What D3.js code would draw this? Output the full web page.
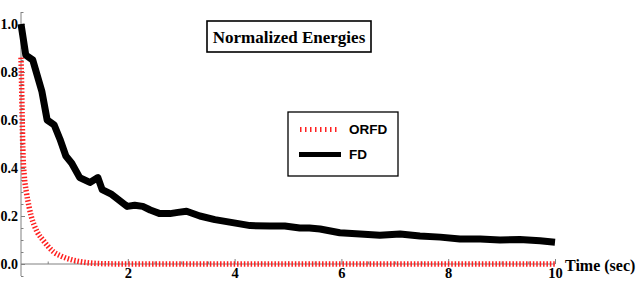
<!DOCTYPE html>
<html><head><meta charset="utf-8">
<script src="https://cdn.jsdelivr.net/npm/d3@7"></script>
<style>
html,body{margin:0;padding:0;background:#fff;}
svg{display:block;}
.serif{font-family:"Liberation Serif","Times New Roman",Times,serif;font-weight:bold;fill:#000;}
.sans{font-family:"Liberation Sans",Arial,Helvetica,sans-serif;font-weight:bold;fill:#000;}
</style></head>
<body>
<svg id="chart" width="639" height="289"></svg>
<script>
const title = "Normalized Energies";
const xLabel = "Time (sec)";
const xTicks = [2, 4, 6, 8, 10];
const yTicks = [0.0, 0.2, 0.4, 0.6, 0.8, 1.0];
const seriesNames = ["ORFD", "FD"];

const orfdT = [0, 0.01, 0.02, 0.03, 0.04, 0.06, 0.1, 0.15, 0.19, 0.25, 0.3, 0.41, 0.5, 0.61, 0.75, 0.94, 1.1, 1.3, 1.6, 2, 3, 4, 5, 6, 7, 8, 9, 10];
const orfdV = [0.86, 0.76, 0.64, 0.52, 0.44, 0.37, 0.30, 0.24, 0.20, 0.16, 0.135, 0.10, 0.075, 0.05, 0.033, 0.018, 0.01, 0.004, 0.001, 0, 0, 0, 0, 0, 0, 0, 0, 0];

const fdT = [0, 0.09, 0.22, 0.39, 0.49, 0.62, 0.73, 0.84, 0.95, 1.1, 1.29, 1.44, 1.52, 1.7, 1.99, 2.13, 2.28, 2.42, 2.6, 2.79, 2.94, 3.1, 3.35, 3.63, 4.1, 4.29, 4.66, 4.94, 5.22, 5.4, 5.6, 5.97, 6.35, 6.72, 7.1, 7.47, 7.85, 8.22, 8.6, 8.97, 9.34, 9.72, 10];
const fdV = [1.0, 0.87, 0.85, 0.72, 0.60, 0.58, 0.52, 0.45, 0.42, 0.36, 0.34, 0.36, 0.31, 0.29, 0.24, 0.245, 0.24, 0.225, 0.21, 0.21, 0.215, 0.22, 0.20, 0.185, 0.167, 0.16, 0.158, 0.158, 0.15, 0.15, 0.146, 0.13, 0.125, 0.12, 0.125, 0.117, 0.112, 0.104, 0.104, 0.10, 0.102, 0.097, 0.091];

const svg = d3.select("#chart");
const x = d3.scaleLinear().domain([0, 10]).range([21, 555]);
const y = d3.scaleLinear().domain([0, 1]).range([264, 24]);

const axisColor = "#808080";

function styleText(sel, cls, size) {
  sel.attr("class", cls).attr("font-family", null).style("font-size", size + "px");
}

// Y axis
const yMinor = d3.range(-0.05, 1.06, 0.05).map(v => +v.toFixed(2)).filter(v => !yTicks.some(t => Math.abs(t - v) < 1e-6));
svg.append("line").attr("x1", x(0)).attr("x2", x(0)).attr("y1", y(-0.05)).attr("y2", y(1.05))
  .attr("stroke", axisColor).attr("stroke-width", 1);
const gyMaj = svg.append("g").attr("transform", `translate(${x(0)},0)`)
  .call(d3.axisRight(y).tickValues(yTicks).tickSize(4).tickFormat(""));
const gyMin = svg.append("g").attr("transform", `translate(${x(0)},0)`)
  .call(d3.axisRight(y).tickValues(yMinor).tickSize(2.5).tickFormat(""));
const gyLab = svg.append("g").attr("transform", `translate(${x(0)},0)`)
  .call(d3.axisLeft(y).tickValues(yTicks).tickSize(0).tickPadding(3).tickFormat(d3.format(".1f")));
[gyMaj, gyMin, gyLab].forEach(g => g.select(".domain").remove());
[gyMaj, gyMin].forEach(g => g.selectAll("line").attr("stroke", axisColor));
gyLab.attr("font-family", null).attr("font-size", null);
styleText(gyLab.selectAll("text"), "serif", 14);

// X axis
const xMinor = d3.range(0.5, 10, 0.5).filter(v => !xTicks.includes(v));
svg.append("line").attr("x1", x(0)).attr("x2", x(10)).attr("y1", y(0)).attr("y2", y(0))
  .attr("stroke", axisColor).attr("stroke-width", 1);
const gxMaj = svg.append("g").attr("transform", `translate(0,${y(0)})`)
  .call(d3.axisTop(x).tickValues(xTicks).tickSize(5).tickFormat(""));
const gxMin = svg.append("g").attr("transform", `translate(0,${y(0)})`)
  .call(d3.axisTop(x).tickValues(xMinor).tickSize(2.5).tickFormat(""));
const gxLab = svg.append("g").attr("transform", `translate(0,${y(0)})`)
  .call(d3.axisBottom(x).tickValues(xTicks).tickSize(0).tickPadding(4).tickFormat(d3.format("d")));
[gxMaj, gxMin, gxLab].forEach(g => g.select(".domain").remove());
[gxMaj, gxMin].forEach(g => g.selectAll("line").attr("stroke", axisColor));
gxLab.attr("font-family", null).attr("font-size", null);
styleText(gxLab.selectAll("text"), "serif", 14.5);

const xl = svg.append("text").attr("x", 565).attr("y", 270.5).text(xLabel);
styleText(xl, "serif", 16);

// Series
const orfd = orfdT.map((t, i) => [t, orfdV[i]]);
const fd = fdT.map((t, i) => [t, fdV[i]]);

svg.append("path").datum(orfd)
  .attr("d", d3.line().x(d => x(d[0])).y(d => y(d[1])).curve(d3.curveMonotoneX))
  .attr("fill", "none").attr("stroke", "#ff2020").attr("stroke-width", 5.5)
  .attr("stroke-dasharray", "1.5,1.9");

svg.append("path").datum(fd)
  .attr("d", d3.line().x(d => x(d[0])).y(d => y(d[1])))
  .attr("fill", "none").attr("stroke", "#000").attr("stroke-width", 7)
  .attr("stroke-linejoin", "round");

// Title box
svg.append("rect").attr("x", 207).attr("y", 21).attr("width", 164).attr("height", 31)
  .attr("fill", "#fff").attr("stroke", "#000").attr("stroke-width", 1.6);
const tt = svg.append("text").attr("x", 289).attr("y", 42.5).attr("text-anchor", "middle").text(title);
styleText(tt, "serif", 17);

// Legend
const lg = svg.append("g");
lg.append("rect").attr("x", 288).attr("y", 112).attr("width", 110).attr("height", 64)
  .attr("fill", "#fff").attr("stroke", "#000").attr("stroke-width", 1.3);
lg.append("line").attr("x1", 300).attr("x2", 340).attr("y1", 129.5).attr("y2", 129.5)
  .attr("stroke", "#ff2020").attr("stroke-width", 5).attr("stroke-dasharray", "1.5,3.5");
lg.append("line").attr("x1", 299).attr("x2", 341).attr("y1", 154.5).attr("y2", 154.5)
  .attr("stroke", "#000").attr("stroke-width", 5);
styleText(lg.append("text").attr("x", 349).attr("y", 133.5).text(seriesNames[0]), "sans", 13.5);
styleText(lg.append("text").attr("x", 349).attr("y", 158.5).text(seriesNames[1]), "sans", 13.5);
</script>
</body></html>
